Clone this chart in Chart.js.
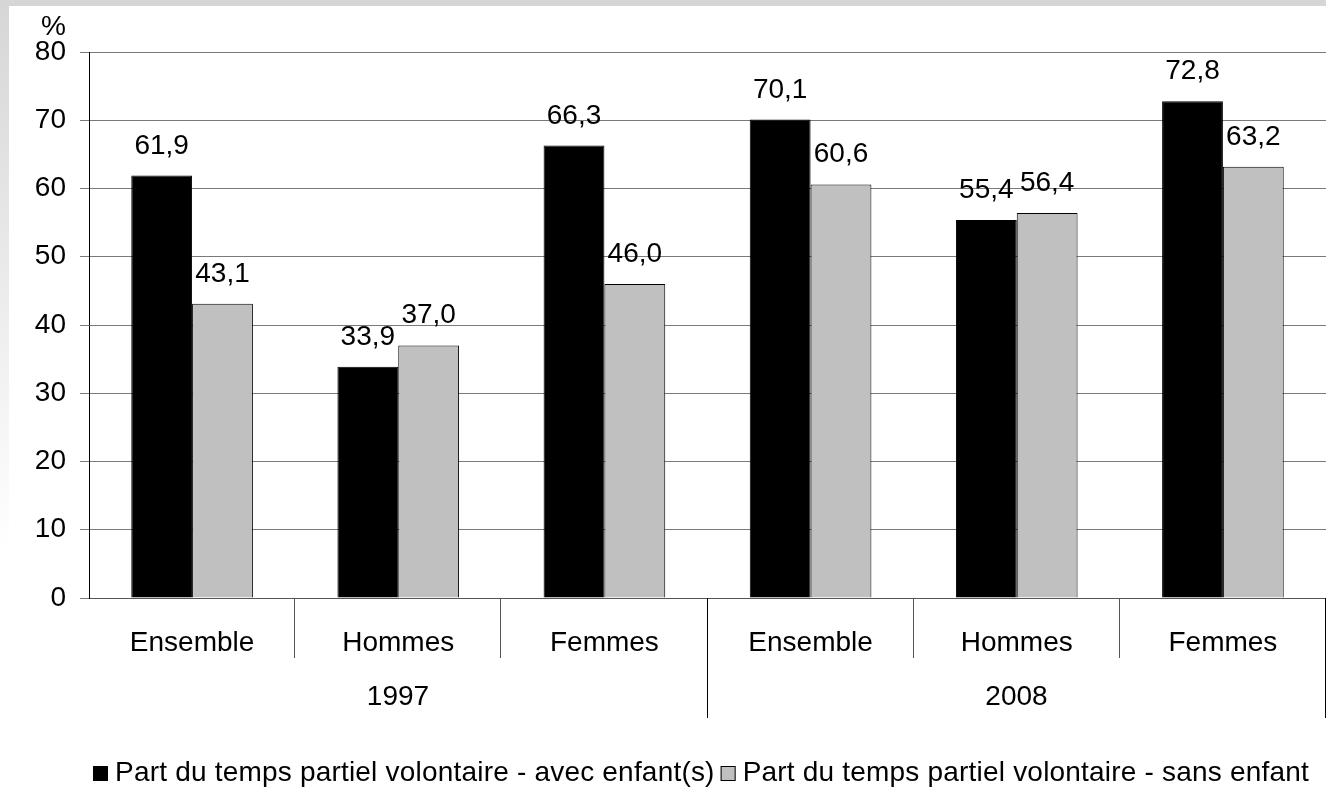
<!DOCTYPE html>
<html><head><meta charset="utf-8">
<script src="https://cdn.jsdelivr.net/npm/chart.js@4/dist/chart.umd.min.js"></script>
<style>
html,body{margin:0;padding:0;background:#fff;}
#wrap{position:relative;width:1326px;height:787px;overflow:hidden;background:#fff;}
#topband{position:absolute;left:0;top:0;width:1326px;height:6px;background:#d6d6d6;}
#leftband{position:absolute;left:0;top:0;width:9px;height:787px;background:linear-gradient(#d6d6d6,#fff 70%);}
canvas{position:absolute;left:0;top:0;}
</style></head>
<body>
<div id="wrap"><div id="topband"></div><div id="leftband"></div><canvas id="c" width="1326" height="787"></canvas></div>
<script>
const groups = ['1997', '2008'];
const categories = ['Ensemble', 'Hommes', 'Femmes', 'Ensemble', 'Hommes', 'Femmes'];
const categoriesPerGroup = 3;
const seriesNames = ['Part du temps partiel volontaire - avec enfant(s)', 'Part du temps partiel volontaire - sans enfant'];
const avecEnfants = [61.9, 33.9, 66.3, 70.1, 55.4, 72.8];
const sansEnfant = [43.1, 37.0, 46.0, 60.6, 56.4, 63.2];
const yMin = 0, yMax = 80, yStep = 10;
const yUnit = '%';

const FONT = '"Liberation Sans", Arial, sans-serif';
const FS = 28;
const fmt = v => v.toFixed(1).replace('.', ',');

const decor = {
  id: 'decor',
  afterDatasetsDraw(chart) {
    const ctx = chart.ctx;
    ctx.save();
    ctx.fillStyle = '#000';
    ctx.font = FS + 'px ' + FONT;
    ctx.textAlign = 'center';
    ctx.textBaseline = 'alphabetic';
    chart.data.datasets.forEach((ds, di) => {
      chart.getDatasetMeta(di).data.forEach((bar, i) => {
        ctx.fillText(fmt(ds.data[i]), bar.x, bar.y - 22);
      });
    });
    ctx.restore();
  },
  afterDraw(chart) {
    const ctx = chart.ctx;
    const x = chart.scales.x;
    const area = chart.chartArea;
    const n = categories.length;
    const bounds = [];
    for (let i = 0; i <= n; i++) {
      let bx;
      if (i === 0) bx = area.left;
      else if (i === n) bx = area.right;
      else bx = (x.getPixelForValue(i - 1) + x.getPixelForValue(i)) / 2;
      bounds.push(Math.round(bx) - 0.5);
    }
    ctx.save();
    ctx.lineWidth = 1;
    bounds.forEach((bx, i) => {
      const isGroup = i % categoriesPerGroup === 0;
      if (i === 0) return;
      ctx.strokeStyle = isGroup ? '#000' : '#555';
      ctx.beginPath();
      ctx.moveTo(bx, area.bottom);
      ctx.lineTo(bx, area.bottom + (isGroup ? 120 : 60));
      ctx.stroke();
    });
    ctx.fillStyle = '#000';
    ctx.font = FS + 'px ' + FONT;
    ctx.textAlign = 'center';
    ctx.textBaseline = 'middle';
    groups.forEach((g, gi) => {
      const a = bounds[gi * categoriesPerGroup], b = bounds[(gi + 1) * categoriesPerGroup];
      ctx.fillText(g, (a + b) / 2, area.bottom + 99);
    });
    ctx.textAlign = 'right';
    ctx.textBaseline = 'alphabetic';
    ctx.fillText(yUnit, area.left - 23, area.top - 17);
    // legend
    ctx.font = FS + 'px ' + FONT;
    if ('letterSpacing' in ctx) ctx.letterSpacing = '0.2px';
    ctx.textBaseline = 'middle';
    ctx.textAlign = 'left';
    const ly = 773;
    let lx = 93;
    chart.data.datasets.forEach((ds) => {
      ctx.fillStyle = ds.backgroundColor;
      ctx.fillRect(lx, ly - 7, 15, 15);
      ctx.strokeStyle = '#000';
      ctx.strokeRect(lx + 0.5, ly - 6.5, 14, 14);
      ctx.fillStyle = '#000';
      ctx.fillText(ds.label, lx + 22, ly);
      lx += 22 + ctx.measureText(ds.label).width + 6;
    });
    ctx.restore();
  }
};

new Chart(document.getElementById('c'), {
  type: 'bar',
  data: {
    labels: categories,
    datasets: [
      { label: seriesNames[0], data: avecEnfants, backgroundColor: '#000000', borderColor: '#000000', borderWidth: 1 },
      { label: seriesNames[1], data: sansEnfant, backgroundColor: '#c0c0c0', borderColor: '#000000', borderWidth: 1 }
    ]
  },
  options: {
    responsive: false,
    animation: false,
    layout: { padding: { top: 52, bottom: 69, left: 0, right: 0 } },
    plugins: { legend: { display: false }, tooltip: { enabled: false } },
    datasets: { bar: { categoryPercentage: 0.59, barPercentage: 1 } },
    scales: {
      x: {
        grid: { display: false },
        border: { display: true, color: '#555', width: 1 },
        ticks: { color: '#000', font: { family: FONT, size: FS }, padding: 20, maxRotation: 0, autoSkip: false },
        afterFit(s) { s.height = 120; }
      },
      y: {
        min: yMin, max: yMax,
        ticks: { stepSize: yStep, color: '#000', font: { family: FONT, size: FS }, padding: 14 },
        grid: { color: '#7a7a7a', lineWidth: 1, tickLength: 9 },
        border: { display: true, color: '#000', width: 1 },
        afterFit(s) { s.width = 89; }
      }
    }
  },
  plugins: [decor]
});
</script>
</body></html>
